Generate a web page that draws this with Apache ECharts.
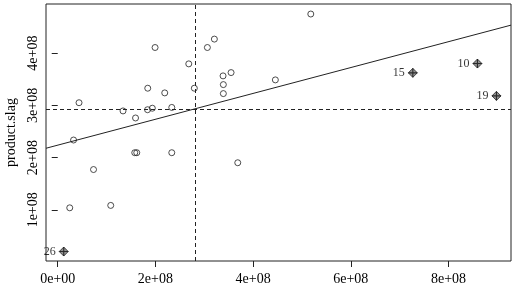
<!DOCTYPE html>
<html>
<head>
<meta charset="utf-8">
<script src="https://cdn.jsdelivr.net/npm/echarts@6/dist/echarts.min.js"></script>
<style>
  html, body { margin: 0; padding: 0; background: #fff; }
  #chart { width: 519px; height: 286px; }
</style>
</head>
<body>
<div id="chart"></div>
<script>
// values
const xValues = [
  1.993e8, 0.436e8, 1.843e8, 2.191e8, 2.683e8, 2.797e8, 3.064e8, 3.207e8,
  3.385e8, 3.391e8, 3.391e8, 3.549e8, 1.337e8, 1.593e8, 1.839e8, 1.937e8,
  2.335e8, 0.324e8, 5.181e8, 4.456e8, 7.270e8, 8.593e8, 8.982e8, 1.577e8,
  1.618e8, 2.335e8, 0.733e8, 3.686e8, 0.246e8, 1.085e8, 0.123e8
];
const yValues = [
  4.107e8, 3.050e8, 3.328e8, 3.238e8, 3.794e8, 3.328e8, 4.107e8, 4.268e8,
  3.564e8, 3.397e8, 3.225e8, 3.627e8, 2.893e8, 2.758e8, 2.916e8, 2.945e8,
  2.960e8, 2.336e8, 4.748e8, 3.487e8, 3.622e8, 3.800e8, 3.181e8, 2.093e8,
  2.093e8, 2.093e8, 1.771e8, 1.901e8, 1.038e8, 1.084e8, 0.201e8
];
// case numbers of the flagged points ('' = not flagged)
const caseIds = [
  '', '', '', '', '', '', '', '', '', '', '', '', '', '', '', '',
  '', '', '', '', '15', '10', '19', '', '', '', '', '', '', '', '26'
];

const xTicks = [0, 2e8, 4e8, 6e8, 8e8];
const xTickLabels = ['0e+00', '2e+08', '4e+08', '6e+08', '8e+08'];
const yTicks = [1e8, 2e8, 3e8, 4e8];
const yTickLabels = ['1e+08', '2e+08', '3e+08', '4e+08'];

const xMin = -0.24e8, xMax = 9.28e8;
const yMin = 0.02e8, yMax = 4.94e8;

// means and least squares fit
const n = xValues.length;
const meanX = xValues.reduce((a, b) => a + b, 0) / n;
const meanY = yValues.reduce((a, b) => a + b, 0) / n;
let sxy = 0, sxx = 0;
for (let i = 0; i < n; i++) {
  sxy += (xValues[i] - meanX) * (yValues[i] - meanY);
  sxx += (xValues[i] - meanX) * (xValues[i] - meanX);
}
const slope = sxy / sxx;
const intercept = meanY - slope * meanX;

const plainPts = [];
const flaggedPts = [];
for (let i = 0; i < n; i++) {
  if (caseIds[i]) flaggedPts.push({value: [xValues[i], yValues[i]], id: caseIds[i]});
  else plainPts.push([xValues[i], yValues[i]]);
}

const serif = '"Liberation Serif", "DejaVu Serif", serif';
const crossPath = 'path://M-0.6,-5L0.6,-5L0.6,5L-0.6,5Z M-5,-0.6L5,-0.6L5,0.6L-5,0.6Z';

const chart = echarts.init(document.getElementById('chart'));
chart.setOption({
  backgroundColor: '#fff',
  animation: false,
  grid: {
    left: 46, top: 4, right: 8, bottom: 25,
    outerBoundsMode: 'none', containLabel: false,
    show: true, borderColor: '#222', borderWidth: 1, backgroundColor: 'transparent'
  },
  xAxis: {
    type: 'value', min: xMin, max: xMax,
    splitLine: {show: false},
    axisLine: {show: false},
    axisTick: {show: true, length: 6, customValues: xTicks, lineStyle: {color: '#222'}},
    axisLabel: {
      customValues: xTicks, margin: 11,
      fontFamily: serif, fontSize: 14, color: '#000',
      formatter: v => xTickLabels[xTicks.indexOf(v)]
    }
  },
  yAxis: {
    type: 'value', min: yMin, max: yMax,
    name: 'product.slag', nameLocation: 'middle', nameGap: 27, nameRotate: 90,
    nameTextStyle: {fontFamily: serif, fontSize: 14, color: '#000'},
    splitLine: {show: false},
    axisLine: {show: false},
    axisTick: {show: true, length: 6, customValues: yTicks, lineStyle: {color: '#222'}},
    axisLabel: {
      customValues: yTicks, rotate: 90, margin: 6,
      fontFamily: serif, fontSize: 14, color: '#000',
      formatter: v => yTickLabels[yTicks.indexOf(v)]
    }
  },
  series: [
    {
      type: 'line',
      data: [[xMin, intercept + slope * xMin], [xMax, intercept + slope * xMax]],
      symbol: 'none',
      lineStyle: {color: '#222', width: 1},
      silent: true,
      markLine: {
        silent: true, symbol: 'none', label: {show: false},
        lineStyle: {color: '#222', width: 1, type: [4, 3]},
        data: [{xAxis: meanX}, {yAxis: meanY}]
      }
    },
    {
      type: 'scatter',
      data: plainPts,
      symbol: 'circle', symbolSize: 6,
      itemStyle: {color: 'transparent', borderColor: '#222', borderWidth: 1}
    },
    {
      type: 'scatter',
      data: flaggedPts,
      symbol: 'diamond', symbolSize: 9,
      itemStyle: {color: '#777', borderColor: '#222', borderWidth: 1},
      label: {
        show: true, position: 'left', distance: 3,
        fontFamily: serif, fontSize: 12, color: '#000',
        formatter: p => p.data.id
      }
    },
    {
      type: 'scatter',
      data: flaggedPts,
      symbol: crossPath, symbolSize: 9,
      itemStyle: {color: '#111'}
    }
  ]
});
</script>
</body>
</html>
